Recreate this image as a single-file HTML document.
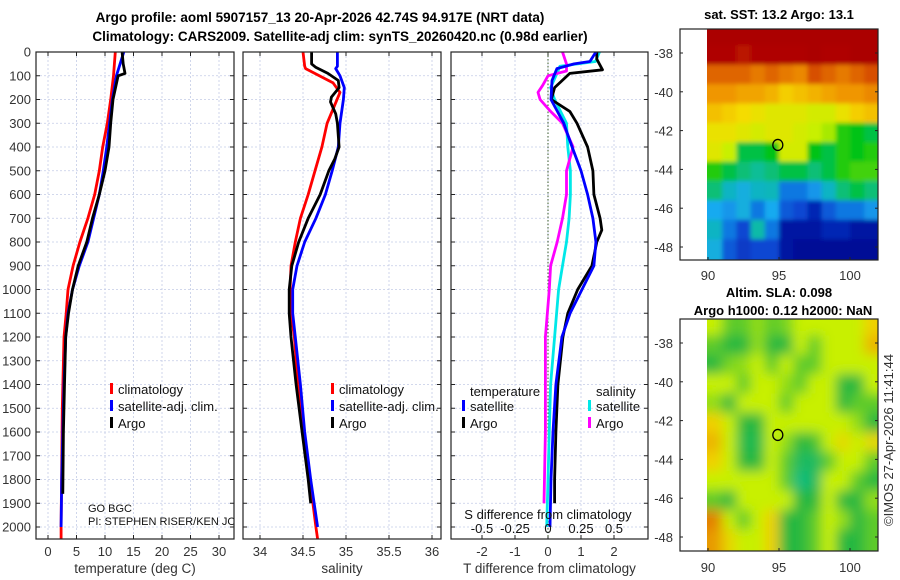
<!DOCTYPE html>
<html><head><meta charset="utf-8">
<style>
html,body{margin:0;padding:0;background:#fff;}
svg{display:block;font-family:"Liberation Sans","DejaVu Sans",sans-serif;}
</style></head>
<body>
<svg id="fig" width="900" height="580" viewBox="0 0 900 580" xmlns="http://www.w3.org/2000/svg">
<defs>
<clipPath id="c1"><rect x="36" y="52" width="198" height="487"/></clipPath>
<clipPath id="c2"><rect x="243" y="52" width="198" height="487"/></clipPath>
<clipPath id="c3"><rect x="451" y="52" width="197" height="487"/></clipPath>
<clipPath id="cm1"><rect x="680" y="29" width="198" height="231"/></clipPath>
<clipPath id="cm2"><rect x="680" y="319" width="198" height="232"/></clipPath>
<filter id="blur1" x="-10%" y="-10%" width="120%" height="120%"><feGaussianBlur stdDeviation="6"/></filter>
<filter id="blur0" x="-10%" y="-10%" width="120%" height="120%"><feGaussianBlur stdDeviation="2"/></filter>
</defs>
<text x="320" y="22" text-anchor="middle" font-size="13.5" font-weight="bold">Argo profile: aoml 5907157_13 20-Apr-2026 42.74S 94.917E (NRT data)</text>
<text x="340" y="41" text-anchor="middle" font-size="13.5" font-weight="bold">Climatology: CARS2009. Satellite-adj clim: synTS_20260420.nc (0.98d earlier)</text>
<text x="779" y="19" text-anchor="middle" font-size="13" font-weight="bold">sat. SST: 13.2 Argo: 13.1</text>
<text x="779" y="297" text-anchor="middle" font-size="13" font-weight="bold">Altim. SLA: 0.098</text>
<text x="783" y="315" text-anchor="middle" font-size="13" font-weight="bold">Argo h1000: 0.12 h2000: NaN</text>
<text transform="translate(893,440) rotate(-90)" text-anchor="middle" font-size="13" fill="#333">©IMOS 27-Apr-2026 11:41:44</text>
<g id="root"></g>
</svg>
<script>
// ---- Profile data ----
const depthTicks = [0,100,200,300,400,500,600,700,800,900,1000,1100,1200,1300,1400,1500,1600,1700,1800,1900,2000];
const tempTicks = [0,5,10,15,20,25,30];
const salTicks = [34,34.5,35,35.5,36];
const salTickLabels = ["34","34.5","35","35.5","36"];
const tdiffTicks = [-2,-1,0,1,2];
const sdiffTicks = [-0.5,-0.25,0,0.25,0.5];
const sdiffTickLabels = ["-0.5","-0.25","0","0.25","0.5"];

const tClimDepth = [0,100,200,300,400,500,600,700,800,900,1000,1100,1200,1500,2000,2050];
const tClimVal   = [11.8,11.5,11.0,10.4,9.6,9.0,8.2,7.0,5.6,4.4,3.5,3.2,2.8,2.5,2.3,2.3];
const tSatDepth = [0,100,200,300,400,500,600,700,800,900,1000,1100,1200,1400,1600,1800,2000];
const tSatVal   = [13.3,12.0,11.3,10.8,10.3,9.7,9.0,8.0,7.0,5.5,4.3,3.5,3.1,2.8,2.6,2.4,2.3];
const tArgoDepth = [0,50,90,100,200,300,400,500,600,700,800,900,1000,1100,1200,1400,1600,1860];
const tArgoVal   = [13.0,13.2,13.5,12.3,11.4,11.0,10.7,10.0,9.0,7.8,6.8,5.3,4.3,3.6,3.1,2.9,2.7,2.6];

const sClimDepth = [0,60,70,130,170,300,400,500,600,700,800,900,1000,1100,1200,1400,1600,1800,2000,2050];
const sClimVal   = [34.5,34.52,34.53,34.85,34.93,34.78,34.72,34.64,34.56,34.47,34.41,34.36,34.35,34.36,34.40,34.44,34.50,34.58,34.65,34.67];
const sSatDepth = [0,60,70,100,150,200,300,400,500,600,700,800,900,1000,1100,1200,1400,1600,1800,2000];
const sSatVal   = [34.90,34.90,34.88,34.93,34.98,34.97,34.93,34.91,34.84,34.76,34.65,34.52,34.43,34.38,34.38,34.41,34.47,34.52,34.59,34.67];
const sArgoDepth = [0,50,65,90,120,150,190,210,260,300,400,450,500,600,700,800,900,1000,1100,1200,1400,1600,1800,1900];
const sArgoVal   = [34.60,34.60,34.65,34.79,34.91,34.92,34.83,34.82,34.88,34.90,34.92,34.87,34.80,34.70,34.56,34.45,34.37,34.34,34.34,34.36,34.42,34.49,34.56,34.59];

const dTArgoDepth = [0,30,75,90,150,200,250,300,400,500,600,700,750,800,900,1000,1100,1200,1400,1600,1800,1900];
const dTArgoVal   = [1.48,1.48,1.65,0.66,0.2,0.1,0.66,0.88,1.2,1.36,1.39,1.58,1.63,1.48,1.33,0.9,0.6,0.45,0.3,0.24,0.2,0.2];
const dTSatDepth = [0,40,50,70,120,200,300,400,500,600,700,800,900,1000,1100,1200,1400,1600,1800,2000];
const dTSatVal   = [1.45,1.27,0.79,0.27,0.12,0.09,0.48,0.73,1.0,1.2,1.36,1.45,1.39,1.03,0.67,0.42,0.24,0.15,0.09,0.06];
const dSSatDepth = [0,40,60,100,150,200,300,400,500,600,700,800,900,1000,1200,1400,1600,1800,2000];
const dSSatVal   = [0.39,0.36,0.09,0.06,0.02,0.05,0.14,0.15,0.17,0.17,0.16,0.14,0.11,0.08,0.05,0.02,0.01,0.0,-0.01];
const dSArgoDepth = [0,50,80,100,140,170,200,250,300,350,400,500,600,700,800,900,1000,1200,1400,1600,1900];
const dSArgoVal   = [0.11,0.14,0.14,0.0,-0.04,-0.076,-0.06,0.02,0.11,0.15,0.19,0.14,0.14,0.11,0.07,0.02,0.01,-0.02,-0.02,-0.02,-0.03];

// ---- Map data (values 0..1 on colour scale), rows north->south, cols west->east ----
const mapLonTicks = [90,95,100];
const mapLatTicks = [-38,-40,-42,-44,-46,-48];
const sstGrid = [
[0.97,0.97,0.97,0.97,0.97,0.97,0.97,0.97,0.97,0.97,0.97,0.97],
[0.95,0.95,0.93,0.95,0.95,0.95,0.95,0.97,0.95,0.95,0.97,0.97],
[0.85,0.85,0.85,0.82,0.85,0.82,0.80,0.88,0.85,0.82,0.85,0.88],
[0.78,0.78,0.76,0.76,0.74,0.70,0.72,0.74,0.76,0.78,0.78,0.80],
[0.72,0.70,0.68,0.66,0.64,0.64,0.64,0.62,0.62,0.66,0.70,0.72],
[0.66,0.66,0.64,0.62,0.64,0.64,0.62,0.60,0.58,0.50,0.48,0.45],
[0.64,0.60,0.45,0.45,0.48,0.62,0.62,0.48,0.45,0.50,0.48,0.50],
[0.50,0.45,0.42,0.40,0.42,0.45,0.45,0.42,0.45,0.50,0.52,0.52],
[0.42,0.35,0.32,0.35,0.36,0.25,0.25,0.28,0.35,0.42,0.45,0.42],
[0.30,0.28,0.32,0.25,0.30,0.22,0.20,0.15,0.22,0.25,0.25,0.28],
[0.35,0.25,0.20,0.38,0.25,0.12,0.12,0.12,0.15,0.15,0.12,0.12],
[0.32,0.22,0.18,0.20,0.20,0.12,0.10,0.10,0.10,0.10,0.10,0.10]];
const slaGrid = [
[0.6,0.4,0.4,0.5,0.4,0.45,0.6,0.6,0.6,0.6,0.6,0.8],
[0.4,0.3,0.3,0.5,0.3,0.3,0.6,0.4,0.6,0.6,0.6,0.85],
[0.3,0.45,0.5,0.6,0.4,0.6,0.4,0.4,0.6,0.6,0.6,0.6],
[0.6,0.6,0.4,0.6,0.6,0.5,0.4,0.6,0.6,0.3,0.3,0.6],
[0.5,0.3,0.6,0.6,0.6,0.4,0.6,0.6,0.6,0.3,0.4,0.4],
[0.8,0.6,0.3,0.3,0.6,0.6,0.6,0.6,0.6,0.6,0.5,0.3],
[0.85,0.6,0.25,0.25,0.6,0.5,0.3,0.35,0.6,0.75,0.6,0.75],
[0.8,0.6,0.3,0.3,0.6,0.4,0.2,0.2,0.4,0.6,0.6,0.4],
[0.6,0.6,0.6,0.6,0.6,0.4,0.1,0.2,0.6,0.6,0.4,0.3],
[0.4,0.3,0.6,0.6,0.6,0.6,0.3,0.3,0.6,0.3,0.3,0.5],
[0.95,0.6,0.4,0.6,0.8,0.3,0.3,0.4,0.6,0.5,0.3,0.4],
[0.9,0.75,0.6,0.6,0.8,0.3,0.3,0.4,0.6,0.3,0.3,0.4]];
const argoLon = 94.917, argoLat = -42.74;

const NS="http://www.w3.org/2000/svg";
const root=document.getElementById('root');
function mk(tag,attrs,parent){const e=document.createElementNS(NS,tag);for(const k in attrs)e.setAttribute(k,attrs[k]);(parent||root).appendChild(e);return e;}
function lin(d0,d1,r0,r1){return v=>r0+(v-d0)*(r1-r0)/(d1-d0);}

const Y = lin(0,2000,52,527);
const PT=52,PB=539;
const xT = lin(0,30,48,219);
const xS = lin(34,36,260,432);
const xD = lin(0,2,548,614);
const xSD = lin(0,0.5,548,614);

function panel(name,L,R,clip,xs,xt,xlabels,xtitle,showY){
  const g=mk('g',{});
  
  
  xt.forEach(v=>{mk('line',{x1:xs(v),x2:xs(v),y1:PT,y2:PB,stroke:'#c4cce6','stroke-width':0.8,'stroke-dasharray':'2,2'},g);});
  depthTicks.forEach(d=>{mk('line',{x1:L,x2:R,y1:Y(d),y2:Y(d),stroke:'#c4cce6','stroke-width':0.8,'stroke-dasharray':'2,2'},g);});
  xt.forEach((v,i)=>{const x=xs(v);
    mk('line',{x1:x,x2:x,y1:PB,y2:PB-4,stroke:'#222'},g);mk('line',{x1:x,x2:x,y1:PT,y2:PT+4,stroke:'#222'},g);
    const t=mk('text',{x:x,y:556,'text-anchor':'middle','font-size':13,fill:'#333'},g);t.textContent=xlabels[i];
    
    
  });
  depthTicks.forEach(d=>{const y=Y(d);
    mk('line',{x1:L,x2:L+4,y1:y,y2:y,stroke:'#222'},g);mk('line',{x1:R,x2:R-4,y1:y,y2:y,stroke:'#222'},g);
    if(showY){const t=mk('text',{x:31,y:y+4.5,'text-anchor':'end','font-size':13,fill:'#333'},g);t.textContent=String(d);
      
      }
  });
  const tt=mk('text',{x:(L+R)/2,y:573,'text-anchor':'middle','font-size':13.5,fill:'#333'},g);tt.textContent=xtitle;
  
  
  return g;
}
function series(g,clip,xs,vals,depths,color,name){
  const pts=vals.map((v,i)=>xs(v).toFixed(1)+','+Y(depths[i]).toFixed(1)).join(' ');
  const p=mk('polyline',{points:pts,fill:'none',stroke:color,'stroke-width':2.8,'stroke-linejoin':'round','clip-path':'url(#'+clip+')'},g);
  
  
}
function box(g,L,R){mk('rect',{x:L,y:PT,width:R-L,height:PB-PT,fill:'none',stroke:'#222','stroke-width':1.2},g);}
function legItem(g,x,y,color,label,name){
  mk('rect',{x:x,y:y-9,width:3,height:11,fill:color},g);
  const t=mk('text',{x:x+8,y:y+2,'font-size':13,fill:'#111'},g);t.textContent=label;
  
  
}

let g1=panel('temperature-panel',36,234,'c1',xT,tempTicks,tempTicks.map(String),'temperature (deg C)',true);
series(g1,'c1',xT,tClimVal,tClimDepth,'#f00','temp-climatology-line');
series(g1,'c1',xT,tSatVal,tSatDepth,'#0000ff','temp-satellite-line');
series(g1,'c1',xT,tArgoVal,tArgoDepth,'#000','temp-argo-line');
legItem(g1,110,392,'#f00','climatology','legend-climatology');
legItem(g1,110,409,'#00f','satellite-adj. clim.','legend-satellite-adj');
legItem(g1,110,426,'#000','Argo','legend-argo');
let gt=mk('g',{'clip-path':'url(#c1)'},g1);
let t1=mk('text',{x:88,y:512,'font-size':11,fill:'#111'},gt);t1.textContent='GO BGC';
let t2=mk('text',{x:88,y:525,'font-size':11,fill:'#111'},gt);t2.textContent='PI: STEPHEN RISER/KEN JOHNSON';
box(g1,36,234);

let g2=panel('salinity-panel',243,441,'c2',xS,salTicks,salTickLabels,'salinity',false);
series(g2,'c2',xS,sClimVal,sClimDepth,'#f00','sal-climatology-line');
series(g2,'c2',xS,sSatVal,sSatDepth,'#0000ff','sal-satellite-line');
series(g2,'c2',xS,sArgoVal,sArgoDepth,'#000','sal-argo-line');
legItem(g2,331,392,'#f00','climatology','legend-climatology');
legItem(g2,331,409,'#00f','satellite-adj. clim.','legend-satellite-adj');
legItem(g2,331,426,'#000','Argo','legend-argo');
box(g2,243,441);

let g3=panel('difference-panel',451,648,'c3',xD,tdiffTicks,tdiffTicks.map(String),'T difference from climatology',false);
mk('line',{x1:xD(0),x2:xD(0),y1:PT,y2:PB,stroke:'#3a5a2a','stroke-width':1,'stroke-dasharray':'1.5,2'},g3);
series(g3,'c3',xSD,dSSatVal,dSSatDepth,'#00e8e8','sdiff-satellite-line');
series(g3,'c3',xSD,dSArgoVal,dSArgoDepth,'#ff00ff','sdiff-argo-line');
series(g3,'c3',xD,dTArgoVal,dTArgoDepth,'#000','tdiff-argo-line');
series(g3,'c3',xD,dTSatVal,dTSatDepth,'#0000ff','tdiff-satellite-line');
let lt=mk('text',{x:470,y:396,'font-size':13,fill:'#111'},g3);lt.textContent='temperature';


let ls=mk('text',{x:596,y:396,'font-size':13,fill:'#111'},g3);ls.textContent='salinity';


legItem(g3,462,409,'#00f','satellite','legend-t-satellite');
legItem(g3,462,426,'#000','Argo','legend-t-argo');
legItem(g3,588,409,'#00e8e8','satellite','legend-s-satellite');
legItem(g3,588,426,'#f0f','Argo','legend-s-argo');
let sdt=mk('text',{x:548,y:519,'text-anchor':'middle','font-size':13,fill:'#111'},g3);sdt.textContent='S difference from climatology';


sdiffTicks.forEach((v,i)=>{const t=mk('text',{x:xSD(v),y:533,'text-anchor':'middle','font-size':13,fill:'#111'},g3);t.textContent=sdiffTickLabels[i];
  
  });
box(g3,451,648);

// ---- Maps ----
function ramp(stops){return v=>{v=Math.max(0,Math.min(1,v));
  for(let i=1;i<stops.length;i++){if(v<=stops[i][0]){const a=stops[i-1],b=stops[i],f=(v-a[0])/(b[0]-a[0]);
    return 'rgb('+a[1].map((c,k)=>Math.round(c+(b[1][k]-c)*f)).join(',')+')';}}
  const l=stops[stops.length-1][1];return 'rgb('+l.join(',')+')';};}
const sstCol = ramp([[0,[0,0,130]],[0.1,[0,10,150]],[0.2,[10,70,210]],[0.3,[20,170,240]],[0.4,[10,190,150]],[0.48,[0,195,20]],[0.6,[200,240,0]],[0.68,[245,220,0]],[0.78,[240,150,0]],[0.88,[215,80,0]],[0.95,[175,0,0]],[1,[165,0,0]]]);
const slaCol = ramp([[0,[0,190,160]],[0.3,[40,184,64]],[0.6,[200,240,0]],[0.8,[240,208,0]],[1,[224,100,0]]]);
function mapPanel(name,top,bot,clip,grid,colf,blurId,lat38y,lat48y,lonTickY){
  const g=mk('g',{});
  
  
  const mx=lin(90,100,708,850), my=lin(-38,-48,lat38y,lat48y);
  const cg=mk('g',{'clip-path':'url(#'+clip+')'},g);
  const ig=mk('g',{filter:'url(#'+blurId+')'},cg);
  grid.forEach((row,r)=>row.forEach((v,c)=>{
    const lat0=-36.6-r, lon0=90+c;
    const x0=mx(lon0),x1=mx(lon0+1),y0=my(lat0),y1=my(lat0-1);
    const w=(c===11?x1-x0+20:x1-x0+0.5), h=(r===11?y1-y0+20:y1-y0+0.5);
    const cell=mk('rect',{x:c===0?x0-20:x0,y:r===0?y0-20:y0,width:w+(c===0?20:0),height:h+(r===0?20:0),fill:colf(v)},ig);
    
    
  }));
  mk('rect',{x:680,y:top,width:27,height:bot-top,fill:'#fff'},cg);
  const ci=mk('ellipse',{cx:mx(argoLon),cy:my(argoLat),rx:5,ry:5.5,fill:'none',stroke:'#000','stroke-width':1.3},g);
  
  
  mk('rect',{x:680,y:top,width:198,height:bot-top,fill:'none',stroke:'#222','stroke-width':1.2},g);
  mapLatTicks.forEach(la=>{const y=my(la);
    mk('line',{x1:680,x2:683,y1:y,y2:y,stroke:'#222'},g);mk('line',{x1:878,x2:875,y1:y,y2:y,stroke:'#222'},g);
    const t=mk('text',{x:673,y:y+5,'text-anchor':'end','font-size':13,fill:'#333'},g);t.textContent=String(la);
    
    });
  mapLonTicks.forEach(lo=>{const x=mx(lo);
    mk('line',{x1:x,x2:x,y1:bot,y2:bot-3,stroke:'#222'},g);
    const t=mk('text',{x:x,y:lonTickY,'text-anchor':'middle','font-size':13,fill:'#333'},g);t.textContent=String(lo);
    
    });
}
mapPanel('sst-map',29,260,'cm1',sstGrid,sstCol,'blur0',53,247,280);
mapPanel('sla-map',319,551,'cm2',slaGrid,slaCol,'blur1',343,537,572);
</script>
</body></html>
